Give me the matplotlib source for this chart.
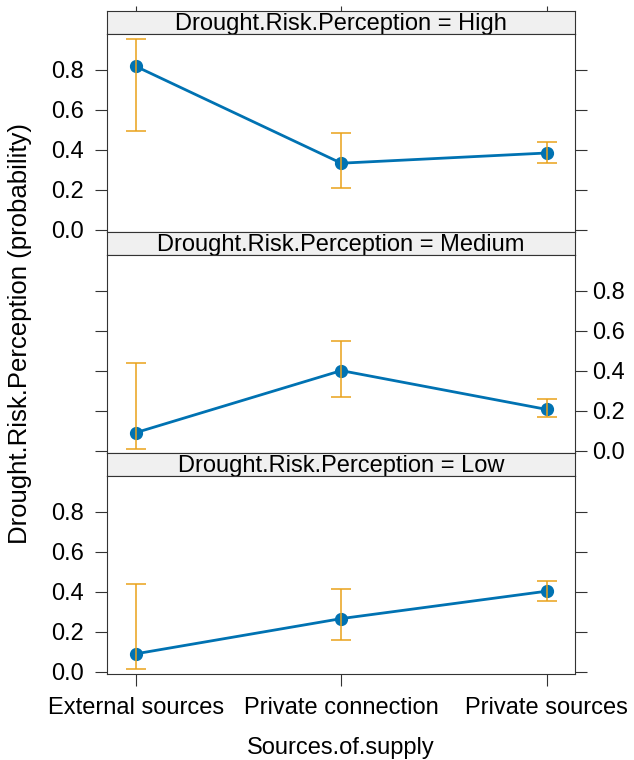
import matplotlib.pyplot as plt
import numpy as np

plt.rcParams['font.family'] = ['Liberation Sans', 'DejaVu Sans']

# data
sources = ["External sources", "Private connection", "Private sources"]
levels = ["High", "Medium", "Low"]

prob_high = [0.818, 0.334, 0.385]
low_high = [0.494, 0.212, 0.336]
up_high = [0.955, 0.483, 0.440]

prob_medium = [0.092, 0.402, 0.208]
low_medium = [0.012, 0.270, 0.172]
up_medium = [0.440, 0.550, 0.258]

prob_low = [0.091, 0.267, 0.404]
low_low = [0.017, 0.160, 0.354]
up_low = [0.440, 0.414, 0.457]

probs = [prob_high, prob_medium, prob_low]
lows = [low_high, low_medium, low_low]
ups = [up_high, up_medium, up_low]

blue = "#0072B2"
orange = "#E9A21A"
edge = "#333333"
fs = 17

W, H = 634, 760
fig = plt.figure(figsize=(W / 100, H / 100), dpi=100)

left, right = 107, 575.3
top = 10.7
strip_h, plot_h = 23.5, 197.5
x = np.arange(len(sources))
xlim = (-0.141, 2.14)
ylim = (-0.0085, 0.979)
yticks = [0.0, 0.2, 0.4, 0.6, 0.8]

for i, lev in enumerate(levels):
    s_top = top + i * (strip_h + plot_h)
    p_top = s_top + strip_h
    # strip header
    sax = fig.add_axes([left / W, 1 - (s_top + strip_h) / H,
                        (right - left) / W, strip_h / H])
    sax.set_facecolor("#F0F0F0")
    sax.set_xlim(xlim)
    sax.set_yticks([])
    sax.text(0.5, 0.45, "Drought.Risk.Perception = " + lev, transform=sax.transAxes,
             ha="center", va="center", fontsize=fs)
    for sp in sax.spines.values():
        sp.set_color(edge)
    if i == 0:
        sax.set_xticks(x)
        sax.tick_params(axis="x", top=True, bottom=False, labeltop=False,
                        labelbottom=False, length=3.6, color=edge)
    else:
        sax.set_xticks([])

    ax = fig.add_axes([left / W, 1 - (p_top + plot_h) / H,
                       (right - left) / W, plot_h / H])
    p = np.array(probs[i])
    lo = np.array(lows[i])
    up = np.array(ups[i])
    ax.plot(x, p, color=blue, lw=2.0, zorder=2)
    ax.plot(x, p, "o", color=blue, ms=8.5, zorder=3)
    ax.errorbar(x, p, yerr=[p - lo, up - p], fmt="none", ecolor=orange,
                elinewidth=1.1, capsize=7.5, capthick=1.1, zorder=4)
    ax.set_xlim(xlim)
    ax.set_ylim(ylim)
    ax.set_yticks(yticks)
    ax.set_yticklabels(["0.0", "0.2", "0.4", "0.6", "0.8"])
    for sp in ax.spines.values():
        sp.set_color(edge)
    on_left = (i != 1)
    ax.tick_params(axis="y", left=True, right=True, labelleft=on_left,
                   labelright=not on_left, length=8.3, color=edge,
                   labelsize=fs, pad=8.5 if on_left else 3.5)
    if i == 2:
        ax.set_xticks(x)
        ax.set_xticklabels(sources)
        ax.tick_params(axis="x", length=8.5, color=edge, labelsize=fs, pad=8.5)
        ax.set_xlabel("Sources.of.supply", fontsize=fs, labelpad=13)
    else:
        ax.set_xticks([])

fig.text(20 / W, 1 - 333 / H, "Drought.Risk.Perception (probability)",
         rotation=90, ha="center", va="center", fontsize=18.5)

fig.savefig("out.png", dpi=100)
